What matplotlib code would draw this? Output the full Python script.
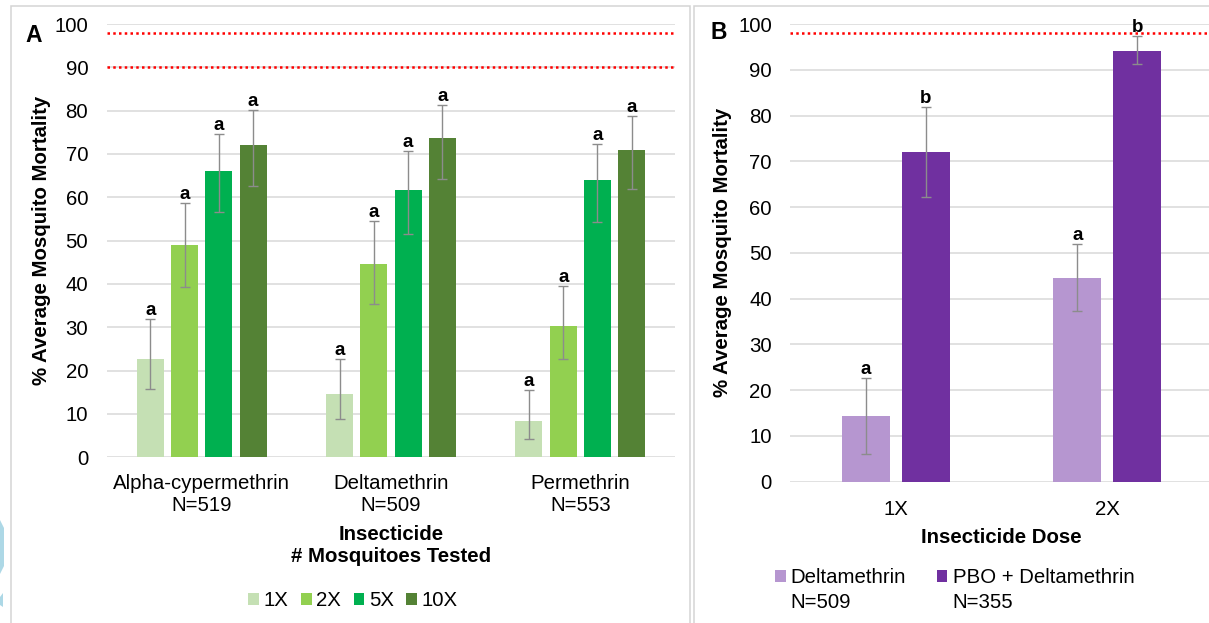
import numpy as np
import matplotlib.pyplot as plt
from matplotlib.patches import Patch, Rectangle, Polygon

plt.rcParams['font.family'] = ['Liberation Sans', 'DejaVu Sans']

W, H = 1209, 623
FS = 14.7

# panel A: mortality per insecticide and dose

insecticides = ['Alpha-cypermethrin', 'Deltamethrin', 'Permethrin']
n_tested_a = [519, 509, 553]
doses_a = ['1X', '2X', '5X', '10X']
colors_a = ['#c5e0b4', '#92d050', '#00b050', '#548235']

# rows: insecticide, columns: dose
mortality_a = np.array([
  [22.8, 49.0, 66.0, 72.1],
  [14.5, 44.5, 61.6, 73.7],
  [8.4, 30.4, 63.9, 71.0],
])
ci_low_a = np.array([
  [15.8, 39.4, 56.6, 62.6],
  [8.8, 35.3, 51.6, 64.2],
  [4.3, 22.7, 54.4, 61.9],
])
ci_high_a = np.array([
  [31.9, 58.8, 74.5, 80.1],
  [22.8, 54.5, 70.7, 81.4],
  [15.6, 39.5, 72.3, 78.7],
])
letters_a = [
  ['a', 'a', 'a', 'a'],
  ['a', 'a', 'a', 'a'],
  ['a', 'a', 'a', 'a'],
]
who_lines_a = [98, 90]

# panel B: deltamethrin with and without PBO

doses_b = ['1X', '2X']
treatments_b = ['Deltamethrin', 'PBO + Deltamethrin']
n_tested_b = [509, 355]
colors_b = ['#b696d0', '#7030a0']

# rows: treatment, columns: dose
mortality_b = np.array([
  [14.4, 44.6],
  [72.0, 94.1],
])
ci_low_b = np.array([
  [6.0, 37.4],
  [62.2, 91.2],
])
ci_high_b = np.array([
  [22.7, 51.9],
  [81.9, 97.4],
])
letters_b = [
  ['a', 'a'],
  ['b', 'b'],
]
who_lines_b = [98]


def px_box(x0, y0, x1, y1):
  # pixel box (top-left origin) -> figure fraction [left, bottom, width, height]
  return [x0 / W, 1 - y1 / H, (x1 - x0) / W, (y1 - y0) / H]


def style_axes(ax, ypad):
  ax.set_ylim(0, 100)
  ax.set_yticks(np.arange(0, 101, 10))
  ax.grid(axis='y', color='#d9d9d9', linewidth=1.1)
  ax.set_axisbelow(True)
  for s in ax.spines.values():
    s.set_visible(False)
  ax.tick_params(axis='both', length=0, labelsize=FS)
  ax.tick_params(axis='y', pad=ypad)


def draw_groups(ax, values, low, high, letters, colors, width, pitch):
  n_series = values.shape[1]
  x = np.arange(values.shape[0])
  for j in range(n_series):
    xs = x + (j - (n_series - 1) / 2) * pitch
    v = values[:, j]
    yerr = np.vstack([v - low[:, j], high[:, j] - v])
    ax.bar(xs, v, width=width, color=colors[j], linewidth=0, zorder=2)
    ax.errorbar(xs, v, yerr=yerr, fmt='none', ecolor='#8c8c8c',
                elinewidth=1.0, capsize=3.5, capthick=1.0, zorder=3)
    for k in range(len(xs)):
      ax.annotate(letters[k][j], (xs[k], high[k, j]), xytext=(0, 4),
                  textcoords='offset pixels', ha='center', va='baseline',
                  fontsize=13.5, fontweight='bold', annotation_clip=False)


fig = plt.figure(figsize=(W / 100, H / 100), dpi=100)

# panel frames and left edge marks
fig.add_artist(Rectangle((10.5 / W, -0.01), 679 / W, 1 - 5.5 / H + 0.01,
                         transform=fig.transFigure, fill=False,
                         edgecolor='#d4d4d4', linewidth=1.1))
fig.add_artist(Rectangle((694 / W, -0.01), 530 / W, 1 - 5.5 / H + 0.01,
                         transform=fig.transFigure, fill=False,
                         edgecolor='#d4d4d4', linewidth=1.1))
for pts in ([(0, 520), (4, 528), (4, 566), (0, 574)],
            [(0, 597), (3, 593), (3, 607), (0, 605)]):
  fig.add_artist(Polygon([(px / W, 1 - py / H) for px, py in pts],
                         closed=True, transform=fig.transFigure,
                         facecolor='#add8e6', edgecolor='none'))

# panel A
axA = fig.add_axes(px_box(107, 24, 675, 457.3))
style_axes(axA, 13.5)
draw_groups(axA, mortality_a, ci_low_a, ci_high_a, letters_a, colors_a,
            width=0.143, pitch=0.181)
for yl in who_lines_a:
  axA.axhline(yl, color='#ff0000', linestyle=(0, (1, 1.3)), linewidth=1.8,
              zorder=4)
axA.set_xlim(-0.5, len(insecticides) - 0.5)
axA.set_xticks(np.arange(len(insecticides)))
axA.set_xticklabels([f'{name}\nN={n}' for name, n in zip(insecticides, n_tested_a)])
axA.tick_params(axis='x', pad=12)
axA.set_xlabel('Insecticide\n# Mosquitoes Tested', fontsize=FS,
               fontweight='bold', labelpad=7)
axA.set_ylabel('% Average Mosquito Mortality', fontsize=FS, fontweight='bold')
axA.yaxis.set_label_coords(-0.099, 0.5)
fig.text(25 / W, 1 - 41.7 / H, 'A', fontsize=16.5, fontweight='bold',
         ha='left', va='baseline')

handles_a = [Patch(facecolor=c, edgecolor='none') for c in colors_a]
fig.legend(handles_a, doses_a, loc='center', ncol=4, frameon=False,
           bbox_to_anchor=(353 / W, 1 - 601 / H), fontsize=FS,
           handlelength=0.52, handleheight=0.52, handletextpad=0.22,
           columnspacing=0.62, borderpad=0, borderaxespad=0)

# panel B
axB = fig.add_axes(px_box(790, 24, 1213, 481.7))
style_axes(axB, 13)
draw_groups(axB, mortality_b.T, ci_low_b.T, ci_high_b.T,
            [list(r) for r in zip(*letters_b)], colors_b,
            width=0.225, pitch=0.284)
for yl in who_lines_b:
  axB.axhline(yl, color='#ff0000', linestyle=(0, (1, 1.3)), linewidth=1.8,
              zorder=4)
axB.set_xlim(-0.5, len(doses_b) - 0.5)
axB.set_xticks(np.arange(len(doses_b)))
axB.set_xticklabels(doses_b)
axB.tick_params(axis='x', pad=13)
axB.set_xlabel('Insecticide Dose', fontsize=FS, fontweight='bold', labelpad=7)
axB.set_ylabel('% Average Mosquito Mortality', fontsize=FS, fontweight='bold')
axB.yaxis.set_label_coords(-0.137, 0.5)
fig.text(710.7 / W, 1 - 39 / H, 'B', fontsize=16.5, fontweight='bold',
         ha='left', va='baseline')

handles_b = [Patch(facecolor=c, edgecolor='none') for c in colors_b]
leg_b = fig.legend(handles_b, treatments_b, loc='center left', ncol=2,
                   frameon=False, bbox_to_anchor=(775 / W, 1 - 577.7 / H),
                   fontsize=FS, handlelength=0.52, handleheight=0.52,
                   handletextpad=0.25, columnspacing=1.5, borderpad=0,
                   borderaxespad=0)

# sample sizes go on a second line under each legend entry
fig.canvas.draw()
for txt, n in zip(leg_b.get_texts(), n_tested_b):
  bb = txt.get_window_extent()
  fig.text(bb.x0 / W, (bb.y0 - 24.5) / H, f'N={n}', fontsize=FS,
           ha='left', va='bottom')

fig.savefig('out.png', dpi=100)
